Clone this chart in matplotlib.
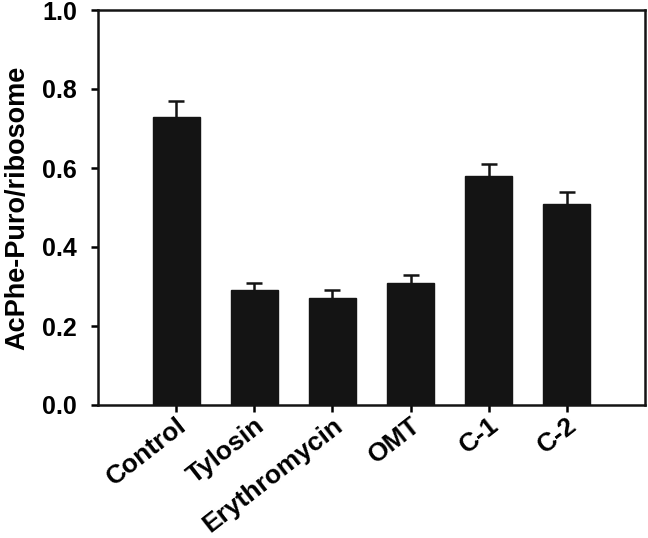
import numpy as np
import matplotlib
matplotlib.use('Agg')
import matplotlib.pyplot as plt

plt.rcParams['font.family'] = ['Liberation Sans', 'DejaVu Sans']
plt.rcParams['font.weight'] = 'bold'

# data
groups = ['Control', 'Tylosin', 'Erythromycin', 'OMT', 'C-1', 'C-2']
values = [0.73, 0.29, 0.27, 0.31, 0.58, 0.51]
errors = [0.04, 0.02, 0.02, 0.02, 0.03, 0.03]
y_ticks = [0.0, 0.2, 0.4, 0.6, 0.8, 1.0]

fig = plt.figure(figsize=(6.48, 5.38), dpi=100)
ax = fig.add_axes([98/648, 1 - 405/538, (645-98)/648, (405-10)/538])

x = np.arange(len(groups))
# error bars drawn under the bars so only the upper half shows
ax.errorbar(x, values, yerr=errors, fmt='none',
            ecolor='#141414', elinewidth=1.8, capsize=6, capthick=1.8, zorder=1)
ax.bar(x, values, width=0.6, color='#141414', edgecolor='#141414', zorder=2)

ax.set_xlim(-1.0, 6.0)
ax.set_ylim(0, 1.0)
ax.set_yticks(y_ticks)
ax.set_yticklabels(['%.1f' % t for t in y_ticks], fontsize=18, fontweight='bold')
ax.set_xticks(x)
ax.set_xticklabels(groups, rotation=38, ha='right', rotation_mode='anchor',
                   fontsize=19, fontweight='bold')
ax.tick_params(axis='both', direction='out', length=5, width=1.8)
ax.tick_params(axis='y', pad=10)
ax.tick_params(axis='x', pad=1)
ax.tick_params(top=False, right=False)
for s in ax.spines.values():
    s.set_linewidth(1.8)
    s.set_color('#141414')
ax.set_ylabel('AcPhe-Puro/ribosome', fontsize=19.5, fontweight='bold')
ax.yaxis.set_label_coords(-68/547, 0.5)

plt.savefig('out.png', dpi=100)
